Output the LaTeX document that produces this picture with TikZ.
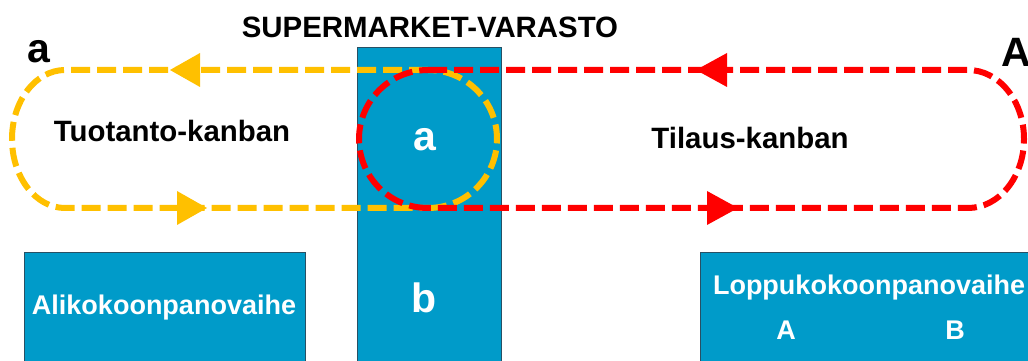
\documentclass[tikz,border=0pt]{standalone}
\usepackage{fontspec}
\setmainfont{Liberation Sans}
\definecolor{kblue}{RGB}{0,155,201}
\definecolor{kedge}{RGB}{40,80,100}
\definecolor{kyellow}{RGB}{255,192,0}
\definecolor{kred}{RGB}{255,0,0}
\tikzset{
  blockbox/.style={draw=kedge, line width=1pt, fill=kblue},
  loopline/.style={line width=6pt, dash pattern=on 19pt off 7pt},
  ylw/.style={loopline, draw=kyellow},
  rd/.style={loopline, draw=kred},
  blk/.style={font=\bfseries\fontsize{29.4}{34}\selectfont, text=black, inner sep=0pt, anchor=base},
  big/.style={font=\bfseries\fontsize{41}{48}\selectfont, inner sep=0pt, anchor=base},
  wht/.style={font=\bfseries\fontsize{27}{32}\selectfont, text=white, inner sep=0pt, anchor=base},
}
\begin{document}
\begin{tikzpicture}[x=1pt,y=1pt]
\useasboundingbox (0,0) rectangle (1028,361);
\clip (0,0) rectangle (1028,361);
% blocks
\path[blockbox] (357,-10) rectangle (501,313);
\path[blockbox] (24,-10) rectangle (305,108);
\path[blockbox] (700,-10) rectangle (1040,108);
% loops
\draw[ylw] (428,291) -- (65,291) arc[start angle=90, end angle=270, x radius=53pt, y radius=69pt] -- (428,153);
\draw[ylw] (428,153) arc[start angle=-90, end angle=90, radius=69pt];
\draw[rd] (428,291) -- (968,291) arc[start angle=90, end angle=-90, x radius=56pt, y radius=69pt] -- (428,153);
\draw[rd] (428,153) arc[start angle=270, end angle=90, radius=69pt];
% arrowheads
\fill[kyellow] (170,291) -- (200,308) -- (200,274) -- cycle;
\fill[kyellow] (207,153) -- (177,170) -- (177,136) -- cycle;
\fill[kred] (696,291) -- (727,308) -- (727,274) -- cycle;
\fill[kred] (738,153) -- (707,170) -- (707,136) -- cycle;
% texts
\node[blk] (title) at (430,323) {SUPERMARKET-VARASTO};
\node[big] (la) at (39,298) {a};
\node[big] (lA) at (1016,294) {A};
\node[blk] (tuot) at (172,219) {Tuotanto-kanban};
\node[blk] (til) at (750,212) {Tilaus-kanban};
\node[big, text=white] (ca) at (425,210) {a};
\node[big, text=white] (cb) at (424,48) {b};
\node[wht] (ali) at (164,46) {Alikokoonpanovaihe};
\node[wht] (lop) at (869,66) {Loppukokoonpanovaihe};
\node[wht] (lopA) at (786,21) {A};
\node[wht] (lopB) at (955,21) {B};
\end{tikzpicture}
\end{document}
